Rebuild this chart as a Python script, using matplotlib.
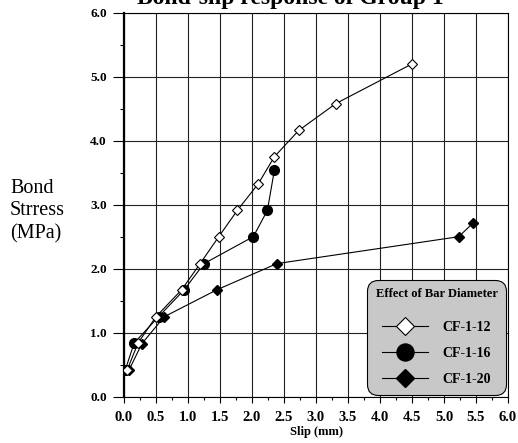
import matplotlib
matplotlib.use("Agg")
import matplotlib.pyplot as plt
from matplotlib.ticker import MultipleLocator, FormatStrFormatter

# Bond stress vs slip for three bar diameters
slip_12 = [0.05, 0.22, 0.50, 0.90, 1.19, 1.48, 1.77, 2.10, 2.35, 2.73, 3.31, 4.50]
stress_12 = [0.42, 0.84, 1.25, 1.67, 2.08, 2.50, 2.91, 3.33, 3.75, 4.16, 4.58, 5.20]

slip_16 = [0.02, 0.16, 0.54, 0.94, 1.25, 2.02, 2.24, 2.35]
stress_16 = [0.42, 0.84, 1.25, 1.67, 2.08, 2.50, 2.91, 3.54]

slip_20 = [0.08, 0.28, 0.63, 1.45, 2.39, 5.23, 5.45]
stress_20 = [0.42, 0.83, 1.25, 1.67, 2.08, 2.50, 2.71]

labels = ["CF-1-12", "CF-1-16", "CF-1-20"]

serif = ["Liberation Serif", "DejaVu Serif"]
plt.rcParams["font.family"] = serif

fig = plt.figure(figsize=(5.18, 4.43), dpi=100)
ax = fig.add_axes([124 / 518, 1 - 396.7 / 443, 384 / 518, 384 / 443])

ax.plot(slip_12, stress_12, color="black", lw=0.8, marker="D", ms=5.5,
        mfc="white", mec="black", mew=0.8, label=labels[0], zorder=5)
ax.plot(slip_16, stress_16, color="black", lw=0.8, marker="o", ms=7,
        mfc="black", mec="black", label=labels[1], zorder=4)
ax.plot(slip_20, stress_20, color="black", lw=0.8, marker="D", ms=5.5,
        mfc="black", mec="black", label=labels[2], zorder=3)

ax.set_xlim(0, 6)
ax.set_ylim(0, 6)
ax.xaxis.set_major_locator(MultipleLocator(0.5))
ax.xaxis.set_minor_locator(MultipleLocator(0.25))
ax.yaxis.set_major_locator(MultipleLocator(1.0))
ax.yaxis.set_minor_locator(MultipleLocator(0.5))
ax.xaxis.set_major_formatter(FormatStrFormatter("%.1f"))
ax.yaxis.set_major_formatter(FormatStrFormatter("%.1f"))

ax.grid(True, which="major", color="#222222", lw=0.8)
ax.set_axisbelow(True)

ax.tick_params(axis="x", which="major", direction="out", length=4.5,
               width=0.8, labelsize=10.5, pad=6)
ax.tick_params(axis="x", which="minor", direction="out", length=2.2,
               width=0.8)
ax.tick_params(axis="y", which="major", direction="out", length=8,
               width=0.8, labelsize=9.5, pad=4.5)
ax.tick_params(axis="y", which="minor", direction="out", length=3,
               width=0.8)
for lab in ax.get_xticklabels() + ax.get_yticklabels():
    lab.set_fontweight("bold")

for side in ["top", "right", "bottom"]:
    ax.spines[side].set_linewidth(0.8)
ax.spines["left"].set_linewidth(1.6)

ax.set_xlabel("Slip (mm)", fontsize=9, fontweight="bold", labelpad=1)

fig.text(10 / 518, 1 - 211 / 443, "Bond\nStrress\n(MPa)", fontsize=14.5,
         ha="left", va="center", linespacing=1.25)

fig.text(290 / 518, 1 - 4 / 443, "Bond-slip response of Group 1",
         fontsize=17, fontweight="bold", ha="center", va="baseline")

leg = ax.legend(loc="lower right", title="Effect of Bar Diameter",
                fancybox=True, framealpha=1, facecolor="#c8c8c8",
                edgecolor="black", markerscale=1.75, handlelength=3.3,
                borderaxespad=0.15, labelspacing=0.95, handletextpad=1.0,
                borderpad=0.6,
                prop={"family": serif, "weight": "bold", "size": 10},
                title_fontproperties={"family": serif, "weight": "bold",
                                      "size": 9})
leg._legend_box.sep = 15
leg.get_frame().set_linewidth(0.8)
leg.get_frame().set_boxstyle("round", pad=0, rounding_size=0.8)

fig.savefig("out.png", dpi=100)
